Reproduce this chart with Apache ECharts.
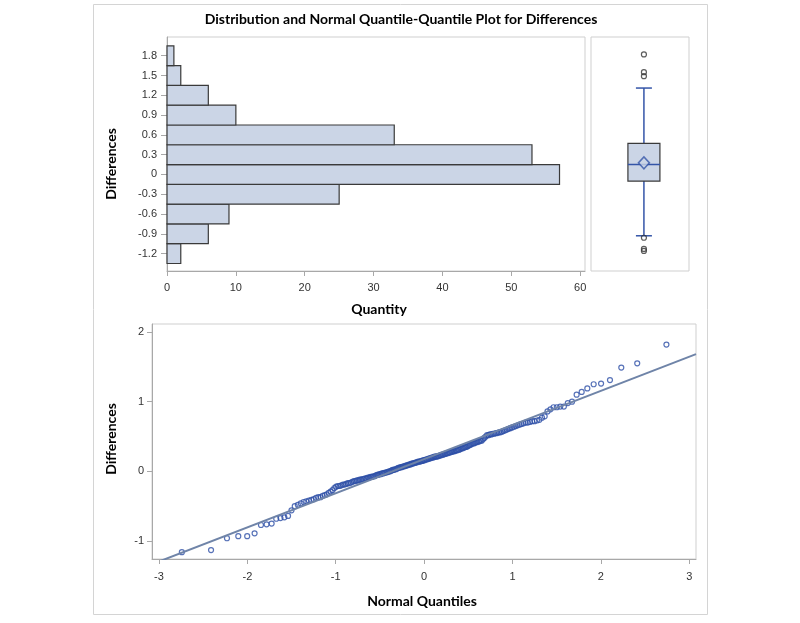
<!DOCTYPE html>
<html>
<head>
<meta charset="utf-8">
<title>Distribution and Normal Quantile-Quantile Plot for Differences</title>
<script src="https://cdn.jsdelivr.net/npm/echarts@6.0.0/dist/echarts.min.js"></script>
<style>
    html, body { margin: 0; padding: 0; background: #fff; }
    #chart { width: 800px; height: 623px; }
</style>
</head>
<body>
<div id="chart"></div>
<script>
// histogram: bin centres and counts (bin width 0.3)
var binCenters = [-1.2, -0.9, -0.6, -0.3, 0, 0.3, 0.6, 0.9, 1.2, 1.5, 1.8];
var binCounts = [2, 6, 9, 25, 57, 53, 33, 10, 6, 2, 1];
var binWidth = 0.3;

// box plot: lower whisker, Q1, median, Q3, upper whisker; and mean
var boxStats = [-0.93, -0.10, 0.15, 0.47, 1.31];
var boxMean = 0.176;

// sorted differences (n = 204)
var differences = [
    -1.16, -1.13, -0.96, -0.93, -0.93, -0.89, -0.77, -0.76, -0.75, -0.68,
    -0.67, -0.66, -0.64, -0.56, -0.50, -0.48, -0.46, -0.44, -0.43, -0.42,
    -0.41, -0.40, -0.38, -0.37, -0.37, -0.35, -0.34, -0.33, -0.31, -0.29,
    -0.27, -0.24, -0.22, -0.21, -0.21, -0.20, -0.19, -0.19, -0.18, -0.17,
    -0.17, -0.16, -0.15, -0.14, -0.14, -0.13, -0.13, -0.12, -0.12, -0.11,
    -0.11, -0.10, -0.10, -0.09, -0.09, -0.08, -0.08, -0.07, -0.07, -0.06,
    -0.05, -0.05, -0.04, -0.04, -0.03, -0.03, -0.02, -0.02, -0.01, -0.01,
    0.00, 0.00, 0.01, 0.02, 0.02, 0.03, 0.03, 0.04, 0.05, 0.05,
    0.06, 0.06, 0.07, 0.07, 0.08, 0.08, 0.09, 0.09, 0.10, 0.10,
    0.11, 0.11, 0.12, 0.12, 0.13, 0.13, 0.14, 0.14, 0.14, 0.15,
    0.15, 0.16, 0.16, 0.17, 0.17, 0.18, 0.18, 0.19, 0.19, 0.20,
    0.20, 0.21, 0.21, 0.21, 0.22, 0.22, 0.23, 0.23, 0.24, 0.24,
    0.25, 0.25, 0.26, 0.26, 0.27, 0.27, 0.28, 0.28, 0.29, 0.29,
    0.30, 0.30, 0.31, 0.31, 0.32, 0.33, 0.33, 0.34, 0.35, 0.35,
    0.36, 0.37, 0.38, 0.39, 0.40, 0.40, 0.41, 0.42, 0.42, 0.43,
    0.44, 0.44, 0.46, 0.48, 0.50, 0.52, 0.52, 0.53, 0.53, 0.54,
    0.54, 0.55, 0.55, 0.56, 0.56, 0.57, 0.58, 0.59, 0.60, 0.61,
    0.62, 0.63, 0.64, 0.65, 0.66, 0.67, 0.68, 0.69, 0.70, 0.70,
    0.71, 0.72, 0.72, 0.73, 0.74, 0.77, 0.79, 0.86, 0.89, 0.92,
    0.92, 0.93, 0.93, 0.98, 1.00, 1.10, 1.14, 1.19, 1.25, 1.26,
    1.31, 1.49, 1.55, 1.82
];

// normal reference line (mu, sigma)
var refMu = 0.176;
var refSigma = 0.49;

// tick labels
var histYTicks = [-1.2, -0.9, -0.6, -0.3, 0, 0.3, 0.6, 0.9, 1.2, 1.5, 1.8];
var histXTicks = [0, 10, 20, 30, 40, 50, 60];
var qqXTicks = [-3, -2, -1, 0, 1, 2, 3];
var qqYTicks = [-1, 0, 1, 2];

// axis ranges
var diffMin = -1.464, diffMax = 2.084;
var qqXMin = -3.079, qqXMax = 3.076;
var qqYMin = -1.258, qqYMax = 2.115;

// inverse standard normal cdf (Acklam)
function normInv(p) {
    var a = [-3.969683028665376e+01, 2.209460984245205e+02, -2.759285104469687e+02, 1.383577518672690e+02, -3.066479806614716e+01, 2.506628277459239e+00];
    var b = [-5.447609879822406e+01, 1.615858368580409e+02, -1.556989798598866e+02, 6.680131188771972e+01, -1.328068155288572e+01];
    var c = [-7.784894002430293e-03, -3.223964580411365e-01, -2.400758277161838e+00, -2.549732539343734e+00, 4.374664141464968e+00, 2.938163982698783e+00];
    var d = [7.784695709041462e-03, 3.224671290700398e-01, 2.445134137142996e+00, 3.754408661907416e+00];
    var pl = 0.02425, q, r;
    if (p < pl) {
        q = Math.sqrt(-2 * Math.log(p));
        return (((((c[0] * q + c[1]) * q + c[2]) * q + c[3]) * q + c[4]) * q + c[5]) / ((((d[0] * q + d[1]) * q + d[2]) * q + d[3]) * q + 1);
    }
    if (p > 1 - pl) {
        q = Math.sqrt(-2 * Math.log(1 - p));
        return -(((((c[0] * q + c[1]) * q + c[2]) * q + c[3]) * q + c[4]) * q + c[5]) / ((((d[0] * q + d[1]) * q + d[2]) * q + d[3]) * q + 1);
    }
    q = p - 0.5;
    r = q * q;
    return (((((a[0] * r + a[1]) * r + a[2]) * r + a[3]) * r + a[4]) * r + a[5]) * q / (((((b[0] * r + b[1]) * r + b[2]) * r + b[3]) * r + b[4]) * r + 1);
}

var n = differences.length;
// Blom plotting positions
var qqData = differences.map(function (v, i) {
    return [normInv((i + 1 - 0.375) / (n + 0.25)), v];
});
var histData = binCenters.map(function (c, i) { return [c, binCounts[i]]; });
var outliers = differences.filter(function (v) {
    return v < boxStats[0] || v > boxStats[4];
}).map(function (v) { return [0, v]; });

var fillColor = '#cbd5e6';
var blue = '#3455a8';
var axisGray = '#a8a8a8';
var frameGray = '#cfcfcf';
var tickFont = { color: '#333', fontSize: 11, fontFamily: 'Liberation Sans, Arial, sans-serif' };
var boldFont = 'Lato, "Open Sans", sans-serif';

var chart = echarts.init(document.getElementById('chart'));

var option = {
    animation: false,
    backgroundColor: '#fff',
    graphic: [
        { type: 'rect', shape: { x: 93.5, y: 4.5, width: 614, height: 610 }, style: { fill: 'none', stroke: '#d4d4d4', lineWidth: 1 }, z: -1 },
        { type: 'text', x: 401, y: 19, style: { text: 'Distribution and Normal Quantile-Quantile Plot for Differences', align: 'center', verticalAlign: 'middle', font: 'bold 14px ' + boldFont, fill: '#000' } },
        { type: 'text', x: 111, y: 164, rotation: Math.PI / 2, style: { text: 'Differences', align: 'center', verticalAlign: 'middle', font: 'bold 14px ' + boldFont, fill: '#000' } },
        { type: 'text', x: 379, y: 309, style: { text: 'Quantity', align: 'center', verticalAlign: 'middle', font: 'bold 14px ' + boldFont, fill: '#000' } },
        { type: 'text', x: 111, y: 439, rotation: Math.PI / 2, style: { text: 'Differences', align: 'center', verticalAlign: 'middle', font: 'bold 14px ' + boldFont, fill: '#000' } },
        { type: 'text', x: 422, y: 601, style: { text: 'Normal Quantiles', align: 'center', verticalAlign: 'middle', font: 'bold 14px ' + boldFont, fill: '#000' } }
    ],
    grid: [
        { left: 167, top: 37, width: 418, height: 234, show: true, borderColor: frameGray, borderWidth: 1 },
        { left: 591, top: 37, width: 98, height: 234, show: true, borderColor: frameGray, borderWidth: 1 },
        { left: 152, top: 324, width: 544, height: 235, show: true, borderColor: frameGray, borderWidth: 1 }
    ],
    xAxis: [
        {
            gridIndex: 0, type: 'value', min: 0, max: 60.7,
            axisLine: { show: true, onZero: false, lineStyle: { color: axisGray } },
            axisTick: { show: true, length: 5, lineStyle: { color: axisGray }, customValues: histXTicks },
            axisLabel: Object.assign({ margin: 11, customValues: histXTicks }, tickFont),
            splitLine: { show: false }
        },
        { gridIndex: 1, type: 'value', min: -1.08, max: 0.92, show: false },
        {
            gridIndex: 2, type: 'value', min: qqXMin, max: qqXMax,
            axisLine: { show: true, onZero: false, lineStyle: { color: axisGray } },
            axisTick: { show: true, length: 5, lineStyle: { color: axisGray }, customValues: qqXTicks },
            axisLabel: Object.assign({ margin: 12, customValues: qqXTicks }, tickFont),
            splitLine: { show: false }
        }
    ],
    yAxis: [
        {
            gridIndex: 0, type: 'value', min: diffMin, max: diffMax,
            axisLine: { show: true, onZero: false, lineStyle: { color: axisGray } },
            axisTick: { show: true, length: 6, lineStyle: { color: axisGray }, customValues: histYTicks },
            axisLabel: Object.assign({ margin: 10, customValues: histYTicks }, tickFont),
            splitLine: { show: false }
        },
        { gridIndex: 1, type: 'value', min: diffMin, max: diffMax, show: false },
        {
            gridIndex: 2, type: 'value', min: qqYMin, max: qqYMax,
            axisLine: { show: true, onZero: false, lineStyle: { color: axisGray } },
            axisTick: { show: true, length: 5, lineStyle: { color: axisGray }, customValues: qqYTicks },
            axisLabel: Object.assign({ margin: 8, customValues: qqYTicks }, tickFont),
            splitLine: { show: false }
        }
    ],
    series: [
        {
            type: 'custom', name: 'Histogram', xAxisIndex: 0, yAxisIndex: 0,
            encode: { x: 1, y: 0 },
            data: histData,
            renderItem: function (params, api) {
                var c = api.value(0), cnt = api.value(1);
                var p0 = api.coord([0, c + binWidth / 2]);
                var p1 = api.coord([cnt, c - binWidth / 2]);
                return {
                    type: 'rect',
                    shape: { x: p0[0], y: p0[1], width: p1[0] - p0[0], height: p1[1] - p0[1] },
                    style: { fill: fillColor, stroke: '#3a3a3a', lineWidth: 1.2 }
                };
            }
        },
        {
            type: 'custom', name: 'Box', xAxisIndex: 1, yAxisIndex: 1,
            data: [[0].concat(boxStats)],
            renderItem: function (params, api) {
                var x = api.value(0);
                var lo = api.coord([x, api.value(1)]);
                var q1 = api.coord([x, api.value(2)]);
                var med = api.coord([x, api.value(3)]);
                var q3 = api.coord([x, api.value(4)]);
                var hi = api.coord([x, api.value(5)]);
                var cx = lo[0], bw = 32, cw = 16;
                var ls = { stroke: blue, lineWidth: 1.5 };
                return {
                    type: 'group',
                    children: [
                        { type: 'line', shape: { x1: cx, y1: hi[1], x2: cx, y2: q3[1] }, style: ls },
                        { type: 'line', shape: { x1: cx, y1: q1[1], x2: cx, y2: lo[1] }, style: ls },
                        { type: 'line', shape: { x1: cx - cw / 2, y1: hi[1], x2: cx + cw / 2, y2: hi[1] }, style: ls },
                        { type: 'line', shape: { x1: cx - cw / 2, y1: lo[1], x2: cx + cw / 2, y2: lo[1] }, style: ls },
                        { type: 'rect', shape: { x: cx - bw / 2, y: q3[1], width: bw, height: q1[1] - q3[1] }, style: { fill: fillColor, stroke: '#3a3a3a', lineWidth: 1.2 } },
                        { type: 'line', shape: { x1: cx - bw / 2, y1: med[1], x2: cx + bw / 2, y2: med[1] }, style: ls }
                    ]
                };
            }
        },
        {
            type: 'scatter', name: 'Mean', xAxisIndex: 1, yAxisIndex: 1,
            data: [[0, boxMean]], symbol: 'diamond', symbolSize: [11, 12],
            itemStyle: { color: fillColor, borderColor: blue, borderWidth: 1.5 }, z: 5
        },
        {
            type: 'scatter', name: 'Outliers', xAxisIndex: 1, yAxisIndex: 1,
            data: outliers, symbol: 'circle', symbolSize: 5,
            itemStyle: { color: 'rgba(0,0,0,0)', borderColor: '#333', borderWidth: 1.2 }, z: 5
        },
        {
            type: 'line', name: 'Normal', xAxisIndex: 2, yAxisIndex: 2,
            data: [[qqXMin, refMu + refSigma * qqXMin], [qqXMax, refMu + refSigma * qqXMax]],
            symbol: 'none', clip: true,
            lineStyle: { color: '#6f84a8', width: 2 }
        },
        {
            type: 'scatter', name: 'Differences', xAxisIndex: 2, yAxisIndex: 2,
            data: qqData, symbol: 'circle', symbolSize: 5,
            itemStyle: { color: 'rgba(0,0,0,0)', borderColor: '#2d4fa6', borderWidth: 1.2 }
        }
    ]
};

chart.setOption(option);
</script>
</body>
</html>
